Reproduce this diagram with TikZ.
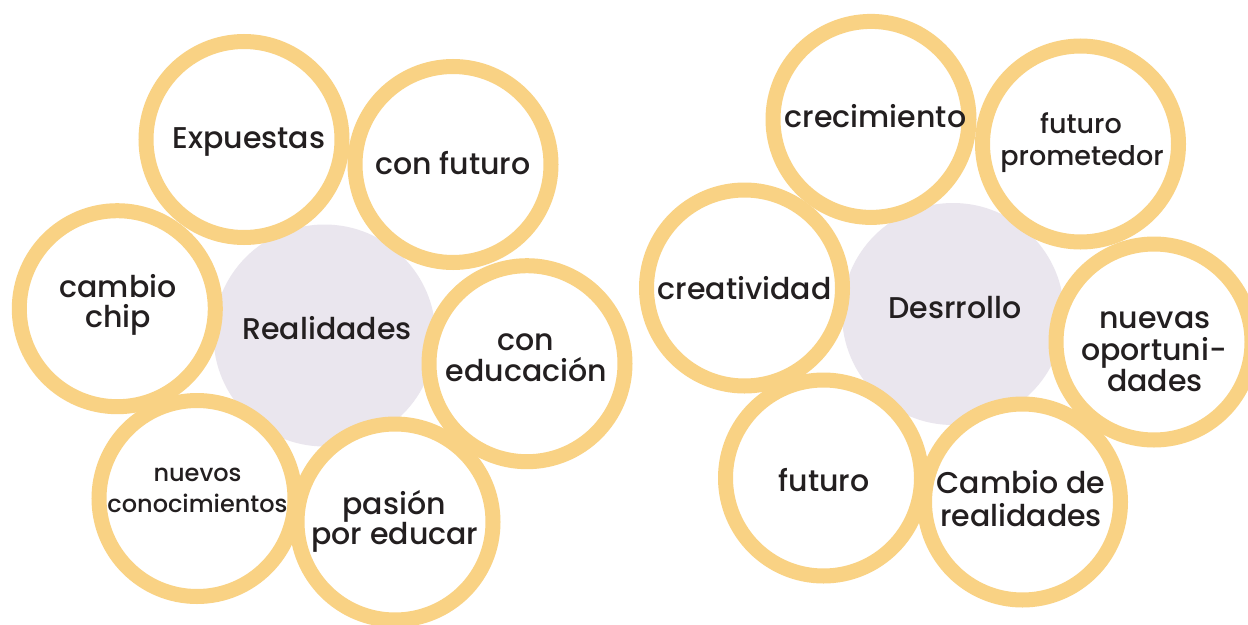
\documentclass[tikz,border=0pt]{standalone}
\usepackage{fontspec}
\setmainfont{Poppins}[UprightFont={* Medium}]
\definecolor{ringyellow}{HTML}{F9D284}
\definecolor{centergray}{HTML}{EAE6EE}
\definecolor{inkdark}{HTML}{231F20}
\begin{document}
\begin{tikzpicture}[x=1pt,y=-1pt,
  ringcircle/.style={circle,draw=ringyellow,fill=white,line width=15pt,minimum size=196pt,inner sep=0pt},
  hubcircle/.style={circle,fill=centergray,minimum size=222pt,inner sep=0pt},
  lbl/.style={anchor=base,inner sep=0pt,text=inkdark,font=\fontsize{30}{31}\selectfont},
  lblsmall/.style={anchor=base,inner sep=0pt,text=inkdark,font=\fontsize{24}{31}\selectfont},
  lblmid/.style={anchor=base,inner sep=0pt,text=inkdark,font=\fontsize{27}{31}\selectfont}]
\useasboundingbox (0,0) rectangle (1248,624);
\fill[white] (0,0) rectangle (1248,624);
% ---------------- left cluster ----------------
\node[hubcircle] (hubL) at (324.5,335.5) {};
\node[ringcircle] (cExpuestas) at (244,139.5) {};
\node[ringcircle] (cConFuturo) at (453,164.5) {};
\node[ringcircle] (cCambioChip) at (117.3,308.7) {};
\node[ringcircle] (cConEducacion) at (527,363.7) {};
\node[ringcircle] (cNuevos) at (197,498.5) {};
\node[ringcircle] (cPasion) at (395,522) {};
\node[lbl] (tExpuestas) at (249,148) {Expuestas};
\node[lbl] (tConFuturo) at (453,174.5) {con futuro};
\node[lbl] (tCambio) at (118,297) {cambio};
\node[lbl] (tChip) at (118,327) {chip};
\node[lbl] (tRealidades) at (327,339) {Realidades};
\node[lbl] (tCon) at (526,350.5) {con};
\node[lbl] (tEducacion) at (526.5,381.5) {educación};
\node[lblsmall] (tNuevos) at (197.5,481) {nuevos};
\node[lblsmall] (tConocimientos) at (197.5,512) {conocimientos};
\node[lbl] (tPasion) at (394,514) {pasión};
\node[lbl] (tPorEducar) at (395,544) {por educar};
% ---------------- right cluster ----------------
\node[hubcircle] (hubR) at (953,314) {};
\node[ringcircle] (cCrecimiento) at (871,119.4) {};
\node[ringcircle] (cFuturoProm) at (1080.5,144) {};
\node[ringcircle] (cCreatividad) at (744.5,288) {};
\node[ringcircle] (cNuevas) at (1154,342) {};
\node[ringcircle] (cFuturo) at (823.5,478) {};
\node[ringcircle] (cCambioReal) at (1022.5,502) {};
\node[lbl] (tCrecimiento) at (875.5,127) {crecimiento};
\node[lblmid] (tFuturoP) at (1081,133) {futuro};
\node[lblmid] (tPrometedor) at (1082,165) {prometedor};
\node[lbl] (tCreatividad) at (744.5,299) {creatividad};
\node[lbl] (tDesrrollo) at (955,318) {Desrrollo};
\node[lbl] (tNuevas) at (1155,328) {nuevas};
\node[lbl] (tOportuni) at (1154,360) {oportuni-};
\node[lbl] (tDades) at (1155,391.5) {dades};
\node[lbl] (tFuturo) at (824,491) {futuro};
\node[lbl] (tCambioDe) at (1021,493) {Cambio de};
\node[lbl] (tRealidadesB) at (1021,526) {realidades};
\end{tikzpicture}
\end{document}
